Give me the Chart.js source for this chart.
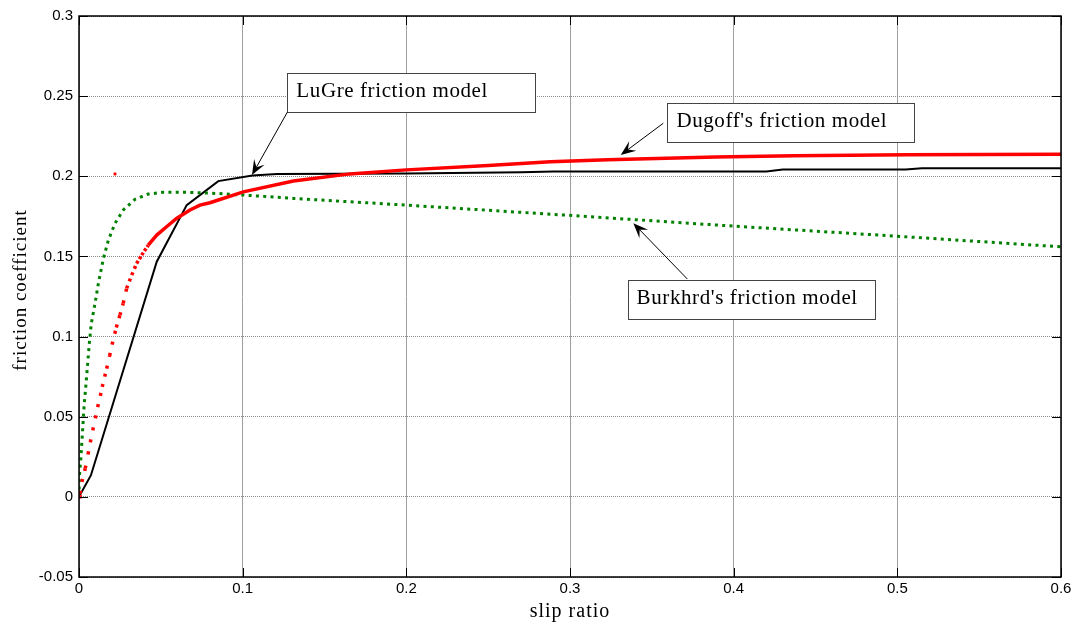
<!DOCTYPE html>
<html>
<head>
<meta charset="utf-8">
<script src="https://cdn.jsdelivr.net/npm/chart.js@4.4.1/dist/chart.umd.min.js"></script>
<style>
  html, body { margin: 0; padding: 0; background: #fff; }
  #wrap { width: 1071px; height: 622px; }
</style>
</head>
<body>
<div id="wrap"><canvas id="myChart" width="1071" height="622"></canvas></div>
<script>
// tick values and labels
const xTicks = [0, 0.1, 0.2, 0.3, 0.4, 0.5, 0.6];
const xTickLabels = ['0', '0.1', '0.2', '0.3', '0.4', '0.5', '0.6'];
const yTicks = [-0.05, 0, 0.05, 0.1, 0.15, 0.2, 0.25, 0.3];
const yTickLabels = ['-0.05', '0', '0.05', '0.1', '0.15', '0.2', '0.25', '0.3'];

// LuGre model (black solid)
const lugreSlip = [0, 0.0073, 0.0475, 0.0658, 0.0851, 0.106, 0.121, 0.2, 0.27, 0.29, 0.42, 0.43, 0.505, 0.515, 0.6];
const lugreMu   = [0, 0.0135, 0.1467, 0.182, 0.197, 0.2005, 0.2014, 0.2018, 0.2025, 0.203, 0.203, 0.2043, 0.2043, 0.205, 0.205];

// Dugoff model (red dots)
const dugoffSlip = [0, 0.0006, 0.0018, 0.0038, 0.0055, 0.0069, 0.0084, 0.01, 0.0114, 0.013, 0.0142, 0.0157, 0.0169,
  0.0187, 0.0202, 0.0228, 0.025, 0.027, 0.0291, 0.0322, 0.0352, 0.0383, 0.0423, 0.0475, 0.0535, 0.0596, 0.0678,
  0.0739, 0.08, 0.1004, 0.131, 0.1655, 0.2, 0.25, 0.288, 0.323, 0.353, 0.389, 0.437, 0.506, 0.6];
const dugoffMu = [0, 0.002, 0.0093, 0.0177, 0.0266, 0.034, 0.0415, 0.049, 0.056, 0.063, 0.0686, 0.075, 0.08,
  0.088, 0.095, 0.1057, 0.1134, 0.1207, 0.13, 0.1383, 0.1456, 0.1508, 0.157, 0.1633, 0.1685, 0.1737, 0.179,
  0.182, 0.1835, 0.1903, 0.197, 0.2015, 0.204, 0.2068, 0.209, 0.2103, 0.2111, 0.212, 0.2128, 0.2135, 0.2138];

// stray red dot
const straySlip = [0.022];
const strayMu = [0.2015];

// Burkhardt model (green dotted)
const burkSlip = [0, 0.0002, 0.0012, 0.0022, 0.0032, 0.0043, 0.0053, 0.0063, 0.0075, 0.0098, 0.0118, 0.0149, 0.0179,
  0.022, 0.0271, 0.0342, 0.0423, 0.0515, 0.0658, 0.0841, 0.1004, 0.131, 0.2, 0.306, 0.4, 0.4985, 0.6];
const burkMu = [0, 0.0124, 0.025, 0.0416, 0.058, 0.0707, 0.0832, 0.0957, 0.108, 0.1207, 0.133, 0.1487, 0.16,
  0.1706, 0.179, 0.1856, 0.1889, 0.19, 0.19, 0.1893, 0.1883, 0.1862, 0.182, 0.1752, 0.1689, 0.1627, 0.156];

const serif = "'Liberation Serif', 'Times New Roman', serif";
const sans = "'Liberation Sans', Arial, sans-serif";

// text boxes with arrows, in data units: box = [left, top, right, bottom]
const notes = [
  { text: 'LuGre friction model', box: [0.1273, 0.2643, 0.2786, 0.2400], from: [0.1273, 0.2400], to: [0.1057, 0.2008] },
  { text: "Dugoff's friction model", box: [0.3595, 0.2456, 0.5104, 0.2212], from: [0.3570, 0.2331], to: [0.3310, 0.2133] },
  { text: "Burkhrd's friction model", box: [0.3352, 0.1353, 0.4863, 0.1110], from: [0.3717, 0.1359], to: [0.3387, 0.1707] }
];

function pairs(xs, ys) {
  return xs.map((x, i) => ({ x: x, y: ys[i] }));
}

function drawArrow(ctx, x0, y0, x1, y1) {
  const a = Math.atan2(y1 - y0, x1 - x0);
  const L = 15, W = 6;
  const nx = x1 - Math.cos(a) * L * 0.6, ny = y1 - Math.sin(a) * L * 0.6;
  ctx.beginPath();
  ctx.moveTo(x0, y0);
  ctx.lineTo(nx, ny);
  ctx.stroke();
  const bx = x1 - Math.cos(a) * L, by = y1 - Math.sin(a) * L;
  const px = -Math.sin(a) * W, py = Math.cos(a) * W;
  ctx.beginPath();
  ctx.moveTo(x1, y1);
  ctx.lineTo(bx + px, by + py);
  ctx.lineTo(nx, ny);
  ctx.lineTo(bx - px, by - py);
  ctx.closePath();
  ctx.fill();
}

const matlabLook = {
  id: 'matlabLook',
  afterDatasetsDraw(chart) {
    const { ctx, chartArea: a, scales: { x, y } } = chart;
    ctx.save();

    // annotations
    notes.forEach(n => {
      const l = x.getPixelForValue(n.box[0]), t = y.getPixelForValue(n.box[1]);
      const r = x.getPixelForValue(n.box[2]), b = y.getPixelForValue(n.box[3]);
      ctx.fillStyle = '#fff';
      ctx.fillRect(l, t, r - l, b - t);
      ctx.strokeStyle = '#444';
      ctx.lineWidth = 1;
      ctx.strokeRect(Math.round(l) + 0.5, Math.round(t) + 0.5, Math.round(r - l), Math.round(b - t));
      ctx.fillStyle = '#000';
      ctx.font = '21px ' + serif;
      ctx.letterSpacing = '0.6px';
      ctx.textAlign = 'left';
      ctx.textBaseline = 'alphabetic';
      ctx.fillText(n.text, l + 9, t + 24);
      ctx.strokeStyle = '#000';
      drawArrow(ctx, x.getPixelForValue(n.from[0]), y.getPixelForValue(n.from[1]),
        x.getPixelForValue(n.to[0]), y.getPixelForValue(n.to[1]));
    });

    // axes box and inward ticks
    ctx.strokeStyle = '#000';
    ctx.lineWidth = 1.5;
    ctx.strokeRect(a.left, a.top, a.right - a.left, a.bottom - a.top);
    ctx.lineWidth = 1;
    ctx.beginPath();
    xTicks.forEach(v => {
      const px = Math.round(x.getPixelForValue(v)) + 0.5;
      ctx.moveTo(px, a.bottom); ctx.lineTo(px, a.bottom - 9);
      ctx.moveTo(px, a.top); ctx.lineTo(px, a.top + 9);
    });
    yTicks.forEach(v => {
      const py = Math.round(y.getPixelForValue(v)) + 0.5;
      ctx.moveTo(a.left, py); ctx.lineTo(a.left + 9, py);
      ctx.moveTo(a.right, py); ctx.lineTo(a.right - 9, py);
    });
    ctx.stroke();

    // axis titles
    ctx.fillStyle = '#000';
    ctx.letterSpacing = '1px';
    ctx.font = '20px ' + serif;
    ctx.textAlign = 'center';
    ctx.textBaseline = 'alphabetic';
    ctx.fillText('slip ratio', (a.left + a.right) / 2, 617);
    ctx.translate(26, 290);
    ctx.rotate(-Math.PI / 2);
    ctx.font = '19px ' + serif;
    ctx.fillText('friction coefficient', 0, 0);
    ctx.restore();
  }
};

const ctx = document.getElementById('myChart').getContext('2d');

new Chart(ctx, {
  type: 'scatter',
  data: {
    datasets: [
      {
        label: 'LuGre',
        data: pairs(lugreSlip, lugreMu),
        showLine: true,
        borderColor: '#000',
        borderWidth: 2,
        pointRadius: 0,
        tension: 0,
        order: 3
      },
      {
        label: 'Burkhardt',
        data: pairs(burkSlip, burkMu),
        showLine: true,
        borderColor: '#008000',
        borderWidth: 3,
        borderDash: [3, 4.3],
        borderCapStyle: 'butt',
        pointRadius: 0,
        tension: 0,
        order: 2
      },
      {
        label: 'Dugoff',
        data: pairs(dugoffSlip, dugoffMu),
        showLine: true,
        borderColor: '#ff0000',
        borderWidth: 3.5,
        borderCapStyle: 'butt',
        pointRadius: 0,
        tension: 0,
        order: 1,
        segment: {
          // samples are evenly spaced in slip, so dots spread apart on steep parts
          borderDash: c => {
            const dx = Math.abs(c.p1.x - c.p0.x), dy = Math.abs(c.p1.y - c.p0.y);
            const step = 2.7 * Math.hypot(dx, dy) / Math.max(dx, 0.1);
            return step > 4.5 ? [3, step - 3] : undefined;
          }
        }
      },
      {
        label: 'stray',
        data: pairs(straySlip, strayMu),
        showLine: false,
        backgroundColor: '#ff0000',
        borderWidth: 0,
        pointRadius: 1.6,
        order: 0
      }
    ]
  },
  options: {
    animation: false,
    responsive: false,
    devicePixelRatio: 1,
    layout: { padding: { left: 0, top: 16, right: 10, bottom: 0 } },
    plugins: {
      legend: { display: false },
      tooltip: { enabled: false }
    },
    scales: {
      x: {
        type: 'linear',
        min: 0,
        max: 0.6,
        afterBuildTicks: s => { s.ticks = xTicks.map(v => ({ value: v })); },
        afterFit: s => { s.height = 45; s.paddingLeft = 0; s.paddingRight = 0; },
        ticks: {
          callback: (v, i) => xTickLabels[i],
          font: { family: sans, size: 15 },
          color: '#000',
          padding: 3,
          maxRotation: 0,
          autoSkip: false
        },
        grid: { color: '#a0a0a0', lineWidth: 1, drawTicks: false },
        border: { display: false }
      },
      y: {
        type: 'linear',
        min: -0.05,
        max: 0.3,
        afterBuildTicks: s => { s.ticks = yTicks.map(v => ({ value: v })); },
        afterFit: s => { s.width = 79; s.paddingTop = 0; s.paddingBottom = 0; },
        ticks: {
          callback: (v, i) => yTickLabels[i],
          font: { family: sans, size: 15 },
          color: '#000',
          padding: 6,
          autoSkip: false
        },
        grid: { color: '#8a8a8a', lineWidth: 1, drawTicks: false },
        border: { display: false, dash: [1, 1] }
      }
    }
  },
  plugins: [matlabLook]
});
</script>
</body>
</html>
